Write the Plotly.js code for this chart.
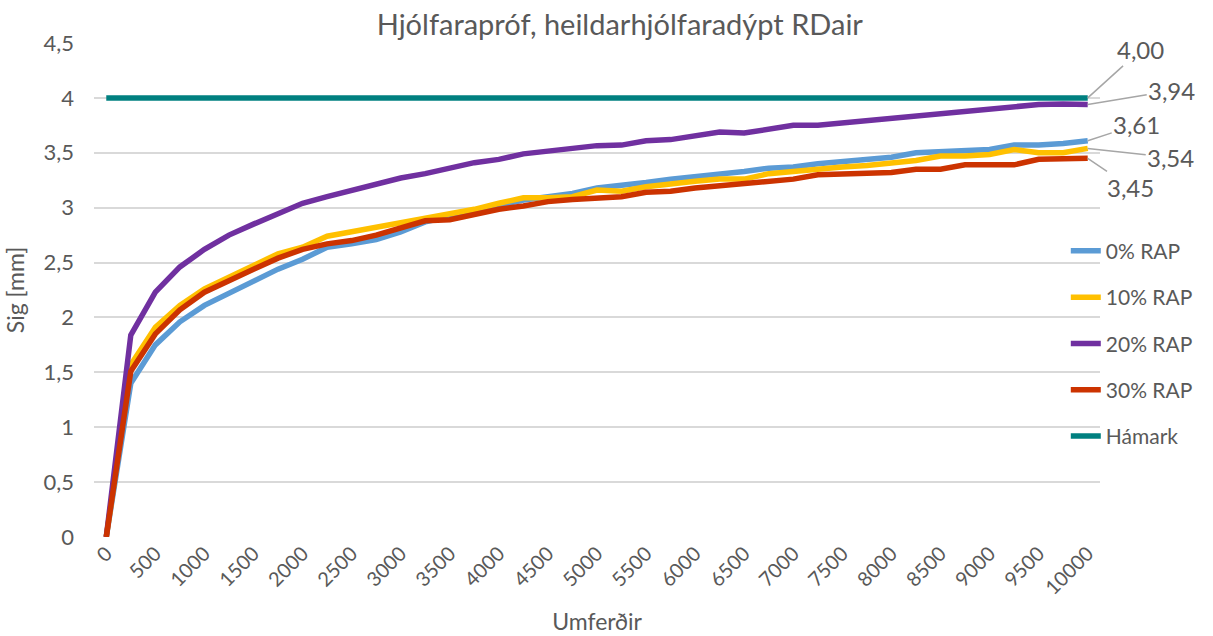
<!DOCTYPE html>
<html>
<head>
<meta charset="utf-8">
<script src="https://cdn.plot.ly/plotly-3.0.1.min.js"></script>
<style>
  html, body { margin: 0; padding: 0; background: #fff; }
  #myDiv { width: 1213px; height: 636px; }
</style>
</head>
<body>
<div id="myDiv"></div>
<script>
// Umferðir: 0, 250, ... 10000
var umferdir = [0, 250, 500, 750, 1000, 1250, 1500, 1750, 2000, 2250, 2500, 2750, 3000, 3250,
  3500, 3750, 4000, 4250, 4500, 4750, 5000, 5250, 5500, 5750, 6000, 6250, 6500, 6750,
  7000, 7250, 7500, 7750, 8000, 8250, 8500, 8750, 9000, 9250, 9500, 9750, 10000];

var rap0 = [0, 1.40, 1.75, 1.96, 2.11, 2.22, 2.33, 2.44, 2.53, 2.64, 2.67,
  2.71, 2.78, 2.87, 2.92, 2.97, 3.02, 3.07, 3.10, 3.13, 3.18,
  3.20, 3.23, 3.26, 3.28, 3.30, 3.33, 3.36, 3.37, 3.40, 3.42,
  3.45, 3.46, 3.50, 3.51, 3.53, 3.53, 3.57, 3.57, 3.585, 3.61];
var rap10 = [0, 1.57, 1.91, 2.11, 2.26, 2.37, 2.47, 2.58, 2.64, 2.74, 2.78,
  2.82, 2.87, 2.91, 2.94, 2.985, 3.04, 3.09, 3.09, 3.10, 3.16,
  3.15, 3.19, 3.22, 3.24, 3.26, 3.26, 3.31, 3.33, 3.36, 3.37,
  3.385, 3.41, 3.43, 3.47, 3.47, 3.485, 3.53, 3.50, 3.50, 3.54];
var rap20 = [0, 1.84, 2.23, 2.46, 2.62, 2.75, 2.85, 2.94, 3.04, 3.10, 3.16,
  3.22, 3.27, 3.31, 3.36, 3.41, 3.44, 3.49, 3.515, 3.545, 3.565,
  3.57, 3.61, 3.62, 3.66, 3.69, 3.68, 3.72, 3.75, 3.75, 3.77,
  3.80, 3.82, 3.84, 3.86, 3.88, 3.89, 3.91, 3.94, 3.945, 3.94];
var rap30 = [0, 1.51, 1.85, 2.07, 2.23, 2.34, 2.44, 2.54, 2.62, 2.67, 2.70,
  2.75, 2.81, 2.88, 2.89, 2.94, 2.985, 3.015, 3.055, 3.075, 3.09,
  3.10, 3.14, 3.15, 3.18, 3.20, 3.22, 3.25, 3.26, 3.30, 3.31,
  3.32, 3.32, 3.35, 3.35, 3.39, 3.39, 3.39, 3.44, 3.445, 3.45];
var hamark = umferdir.map(function () { return 4; });

var names = ['0% RAP', '10% RAP', '20% RAP', '30% RAP', 'Hámark'];
var colors = ['#5b9bd5', '#ffc000', '#7030a0', '#cc3300', '#008080'];
var series = [rap0, rap10, rap20, rap30, hamark];

var xTicks = [0, 500, 1000, 1500, 2000, 2500, 3000, 3500, 4000, 4500, 5000,
  5500, 6000, 6500, 7000, 7500, 8000, 8500, 9000, 9500, 10000];
var yTicks = [0, 0.5, 1, 1.5, 2, 2.5, 3, 3.5, 4, 4.5];

// label offsets (px) for the end-value labels
var labelOffsets = [[49, -16], [83, 9], [84, -14], [43, 29], [53, -48]];

var fmt = function (v) { return v.toFixed(2).replace('.', ','); };
var comma = function (v) { return String(v).replace('.', ','); };

var data = series.map(function (s, i) {
  return {
    x: umferdir,
    y: s,
    type: 'scatter',
    mode: 'lines',
    name: names[i],
    legendgroup: 'g' + i,
    line: {color: colors[i], width: 5.5},
    hoverinfo: 'x+y'
  };
});

var annotations = series.map(function (s, i) {
  var last = s.length - 1;
  return {
    x: umferdir[last],
    y: s[last],
    xref: 'x', yref: 'y',
    text: fmt(s[last]),
    showarrow: true,
    arrowhead: 0,
    arrowwidth: 1.5,
    arrowcolor: '#a6a6a6',
    standoff: 0,
    ax: labelOffsets[i][0],
    ay: labelOffsets[i][1],
    font: {size: 24, color: '#595959'}
  };
});

var layout = {
  width: 1213,
  height: 636,
  margin: {l: 94, r: 113, t: 43, b: 99},
  paper_bgcolor: '#ffffff',
  plot_bgcolor: '#ffffff',
  font: {family: 'Lato, "Open Sans", sans-serif', color: '#595959', size: 20},
  title: {
    text: 'Hjólfarapróf, heildarhjólfaradýpt RDair',
    font: {size: 29, color: '#595959'},
    x: 0.511, xref: 'container', xanchor: 'center',
    y: 0.961, yref: 'container', yanchor: 'middle'
  },
  xaxis: {
    range: [-125, 10125],
    tickmode: 'array',
    tickvals: xTicks,
    ticktext: xTicks.map(String),
    tickangle: -45,
    showgrid: false,
    zeroline: false,
    showline: false,
    ticks: '',
    automargin: false,
    tickfont: {size: 20, color: '#595959'},
    title: {text: 'Umferðir', font: {size: 23, color: '#595959'}, standoff: 15}
  },
  yaxis: {
    range: [0, 4.5],
    tickmode: 'array',
    tickvals: yTicks,
    ticktext: yTicks.map(comma),
    showgrid: true,
    gridcolor: '#d9d9d9',
    gridwidth: 1.5,
    zeroline: false,
    showline: false,
    ticks: '',
    automargin: false,
    ticklabelstandoff: 19,
    tickfont: {size: 22, color: '#595959'},
    title: {text: 'Sig [mm]', font: {size: 23, color: '#595959'}, standoff: 12}
  },
  legend: {
    x: 0.966, xanchor: 'left',
    y: 0.62, yanchor: 'top',
    bgcolor: 'rgba(0,0,0,0)',
    tracegroupgap: 16,
    font: {size: 21, color: '#595959'}
  },
  annotations: annotations,
  showlegend: true
};

Plotly.newPlot('myDiv', data, layout, {displayModeBar: false});
</script>
</body>
</html>
